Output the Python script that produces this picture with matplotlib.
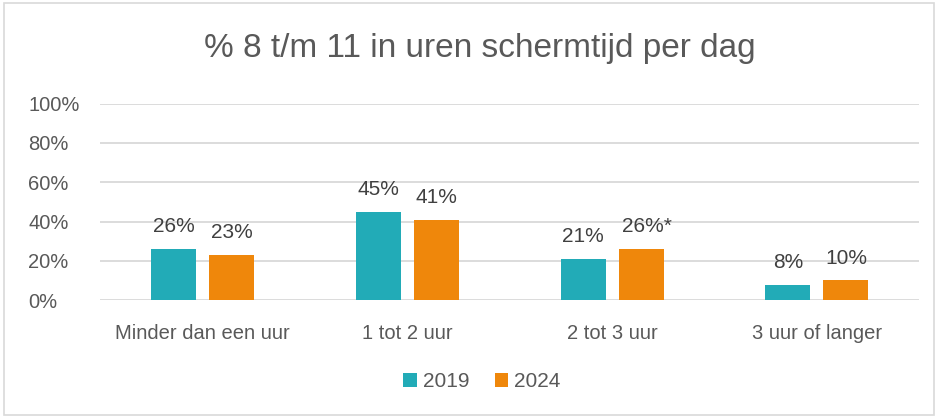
import numpy as np
import matplotlib
matplotlib.use("Agg")
from matplotlib import pyplot as plt
from matplotlib.patches import Rectangle

# data
categories = ["Minder dan een uur", "1 tot 2 uur", "2 tot 3 uur", "3 uur of langer"]
years = ["2019", "2024"]
values_2019 = [26, 45, 21, 7.6]
values_2024 = [23, 41, 26, 10]
labels_2019 = ["26%", "45%", "21%", "8%"]
labels_2024 = ["23%", "41%", "26%*", "10%"]

teal = "#22abb7"
orange = "#ef870b"
grey_text = "#595959"

plt.rcParams['font.family'] = ['Liberation Sans', 'DejaVu Sans']

fig = plt.figure(figsize=(9.38, 4.18), dpi=100)
ax = fig.add_axes([0.107, 0.282, 0.873, 0.47])

x = np.arange(len(categories))
w = 0.22
off = 0.142
b1 = ax.bar(x - off, values_2019, w, color=teal, label=years[0], zorder=3)
b2 = ax.bar(x + off, values_2024, w, color=orange, label=years[1], zorder=3)

for rect, lab in zip(b1, labels_2019):
    ax.text(rect.get_x() + rect.get_width() / 2, rect.get_height() + 6.5, lab,
            ha="center", va="bottom", fontsize=15, color="#404040")
for rect, lab in zip(b2, labels_2024):
    ax.text(rect.get_x() + rect.get_width() / 2 + (0.03 if lab.endswith("*") else 0),
            rect.get_height() + 6.5, lab,
            ha="center", va="bottom", fontsize=15, color="#404040")

ax.set_xlim(-0.5, 3.5)
ax.set_ylim(0, 100)
ax.set_yticks(range(0, 101, 20))
ax.set_yticklabels([f"{t}%" for t in range(0, 101, 20)], fontsize=14.5, color=grey_text)
ax.set_xticks(x)
ax.set_xticklabels(categories, fontsize=14.5, color=grey_text)
ax.tick_params(length=0)
ax.tick_params(axis="x", pad=17)
ax.tick_params(axis="y", pad=52)
for tl in ax.get_yticklabels():
    tl.set_horizontalalignment("left")
ax.yaxis.grid(True, color="#d9d9d9", linewidth=1.3, zorder=0)
for s in ax.spines.values():
    s.set_visible(False)

fig.text(0.512, 0.885, "% 8 t/m 11 in uren schermtijd per dag", ha="center", va="center",
         fontsize=24, color=grey_text)

leg = fig.legend(handles=[b1, b2], labels=years, loc="center", bbox_to_anchor=(0.514, 0.087),
                 ncol=2, frameon=False, fontsize=15, handlelength=0.65, handleheight=0.65,
                 columnspacing=1.2, handletextpad=0.3)
for t in leg.get_texts():
    t.set_color(grey_text)

fig.patches.append(Rectangle((0.004, 0.006), 0.992, 0.988, transform=fig.transFigure,
                             fill=False, edgecolor="#d9d9d9", linewidth=1.2))

fig.savefig("out.png", dpi=100)
